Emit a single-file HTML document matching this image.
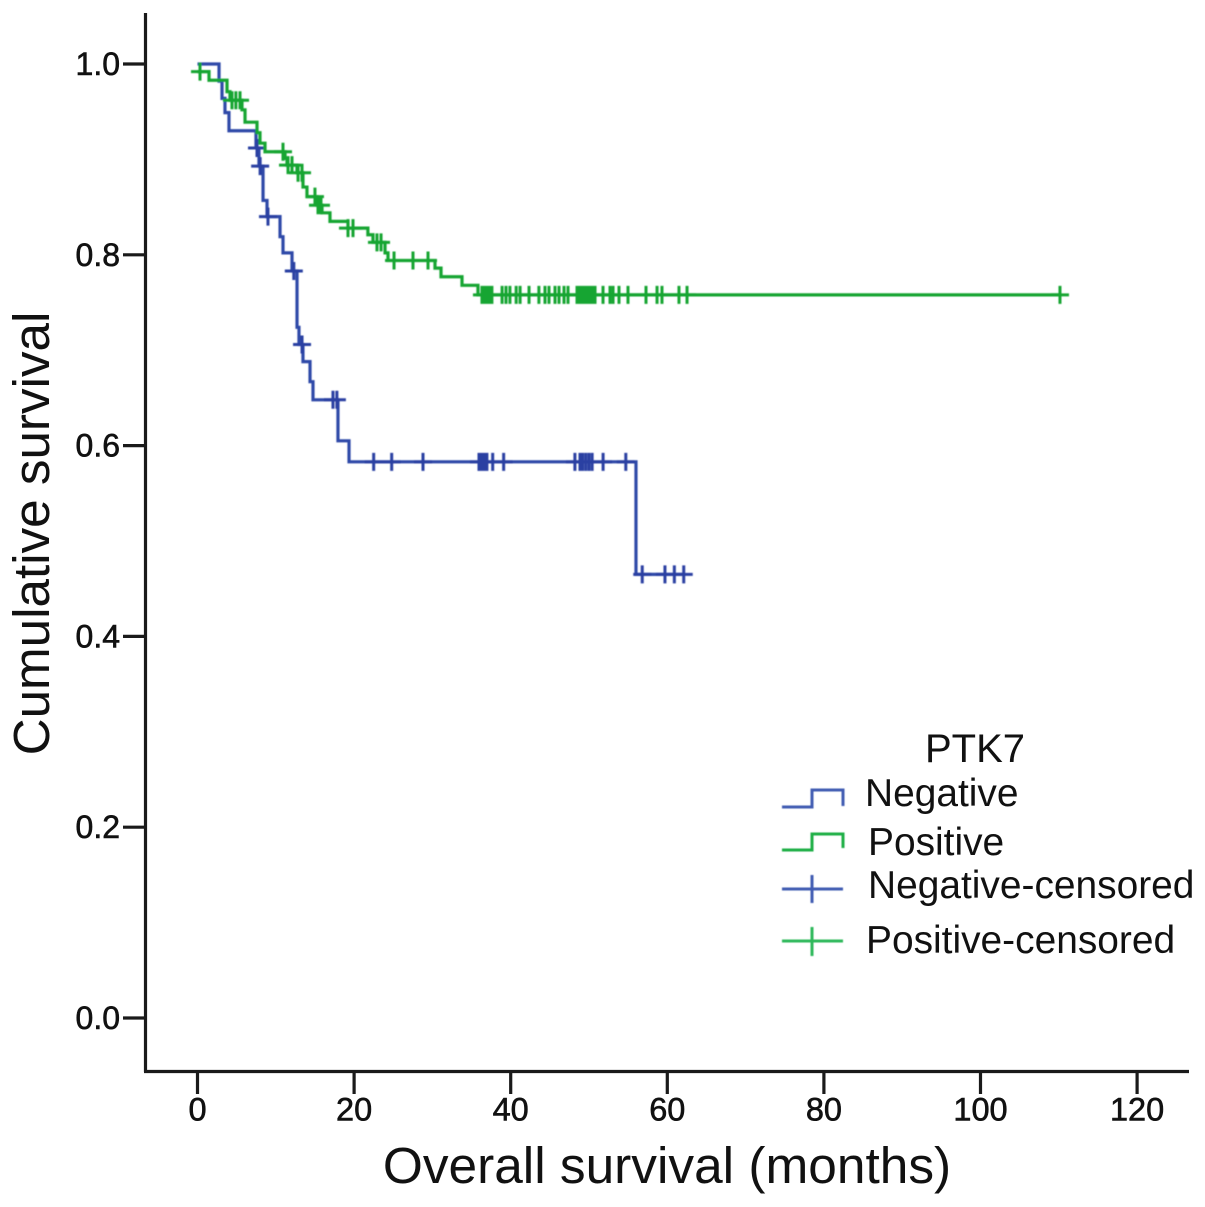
<!DOCTYPE html>
<html>
<head>
<meta charset="utf-8">
<style>
html,body{margin:0;padding:0;background:#fff;}
svg{display:block;}
text{font-family:"Liberation Sans",Arial,sans-serif;fill:#111;}
</style>
</head>
<body>
<svg id="chart" xmlns="http://www.w3.org/2000/svg" width="1205" height="1207" viewBox="0 0 1205 1207">
  <defs>
    <filter id="soft" x="-5%" y="-5%" width="110%" height="110%"><feGaussianBlur stdDeviation="0.6"/></filter>
  </defs>
  <rect width="1205" height="1207" fill="#fff"/>
  <g id="axes"></g>
  <g id="series" filter="url(#soft)"></g>
  <text x="667" y="1183" font-size="51.4" text-anchor="middle">Overall survival (months)</text>
  <text transform="translate(49,533.5) rotate(-90)" font-size="51.2" text-anchor="middle">Cumulative survival</text>
  <g>
    <text x="925" y="762" font-size="40">PTK7</text>
    <g filter="url(#soft)" fill="none" stroke-width="3">
      <path d="M782 807H812V790H843V806" stroke="#3f5cb2"/>
      <path d="M782 850H812V834H843V848" stroke="#1fae45"/>
      <path d="M782 889H843M812 875V903" stroke="#3f5cb2"/>
      <path d="M782 941H843M812 927V956" stroke="#2fb85a"/>
    </g>
    <text x="865" y="806" font-size="38.9">Negative</text>
    <text x="868" y="855" font-size="38.9">Positive</text>
    <text x="868" y="898" font-size="38.9">Negative-censored</text>
    <text x="866" y="953" font-size="38.9">Positive-censored</text>
  </g>
</svg>
<script>
const xTicks = [0, 20, 40, 60, 80, 100, 120];
const yTicks = [0.0, 0.2, 0.4, 0.6, 0.8, 1.0];

const negTimes = [0, 2.75, 3.13, 3.51, 4.02, 7.47, 7.85, 8.37, 8.88, 10.54, 10.92, 12.07, 12.71, 12.96, 13.47, 14.37, 14.75, 17.94, 19.35, 56.0];
const negSurv = [1.0, 0.982, 0.964, 0.949, 0.930, 0.912, 0.893, 0.857, 0.840, 0.819, 0.802, 0.783, 0.724, 0.706, 0.688, 0.667, 0.648, 0.605, 0.583, 0.465];
const negCensored = [7.6, 8.0, 9.0, 12.3, 13.35, 17.3, 17.8, 22.5, 24.8, 28.8, 35.95, 36.2, 36.45, 36.7, 36.96, 37.7, 39.1, 48.2, 48.85, 49.2, 49.6, 50.0, 50.4, 51.8, 54.7, 56.8, 59.7, 60.9, 62.1];

const posTimes = [0, 1.47, 3.77, 4.15, 5.68, 6.07, 7.6, 7.98, 8.62, 11.18, 11.43, 12.71, 13.47, 13.98, 15.26, 15.9, 16.92, 19.22, 21.76, 22.41, 23.95, 24.33, 30.33, 31.1, 33.78, 35.82];
const posSurv = [0.992, 0.983, 0.971, 0.962, 0.952, 0.939, 0.928, 0.917, 0.908, 0.901, 0.894, 0.886, 0.871, 0.861, 0.852, 0.844, 0.835, 0.828, 0.821, 0.813, 0.802, 0.794, 0.786, 0.777, 0.768, 0.758];
const posCensored = [0.32, 4.4, 4.9, 5.43, 10.92, 11.56, 12.07, 12.84, 13.35, 15.0, 15.39, 15.77, 19.22, 19.86, 22.92, 23.44, 25.1, 27.52, 29.44, 36.33, 36.59, 36.84, 37.1, 37.36, 37.6, 38.9, 39.4, 39.9, 40.7, 41.2, 42.34, 43.6, 44.38, 44.89, 45.66, 46.17, 46.81, 47.32, 48.47, 48.72, 48.97, 49.23, 49.49, 49.74, 50.0, 50.26, 50.51, 50.77, 51.79, 52.68, 53.07, 53.83, 54.98, 57.28, 58.69, 59.32, 61.49, 62.52, 110.15];

const NS = 'http://www.w3.org/2000/svg';
const xScale = function (t) { return 197.5 + t * 7.83; };
const yScale = function (s) { return 1018 - s * 954; };

function make(tag, parent, attrs) {
  const el = document.createElementNS(NS, tag);
  for (const k in attrs) el.setAttribute(k, attrs[k]);
  parent.appendChild(el);
  return el;
}

const axes = document.getElementById('axes');
const seriesGroup = document.getElementById('series');
const axisColor = '#1a1a1a';

const yAxisLine = make('line', axes, { x1: 145.5, y1: 13, x2: 145.5, y2: 1072, stroke: axisColor, 'stroke-width': 3.2 });



const xAxisLine = make('line', axes, { x1: 144, y1: 1071.5, x2: 1189, y2: 1071.5, stroke: axisColor, 'stroke-width': 3.2 });



xTicks.forEach(function (v) {
  const x = xScale(v);
  const tick = make('line', axes, { x1: x, y1: 1071, x2: x, y2: 1094, stroke: axisColor, 'stroke-width': 3.2 });
  
  
  const label = make('text', axes, { x: x, y: 1120.5, 'font-size': 32.5, 'text-anchor': 'middle', stroke: '#111', 'stroke-width': 0.6 });
  
  
  label.textContent = String(v);
});

yTicks.forEach(function (v) {
  const y = yScale(v);
  const tick = make('line', axes, { x1: 123, y1: y, x2: 145, y2: y, stroke: axisColor, 'stroke-width': 3.2 });
  
  
  const label = make('text', axes, { x: 120, y: y + 11, 'font-size': 32, 'text-anchor': 'end', stroke: '#111', 'stroke-width': 0.6 });
  
  
  label.textContent = v.toFixed(1);
});

function survivalAt(times, surv, t) {
  let s = surv[0];
  for (let i = 0; i < times.length; i++) {
    if (times[i] <= t) s = surv[i];
  }
  return s;
}

function stepPath(times, surv, endT) {
  let d = 'M' + xScale(times[0]) + ' ' + yScale(surv[0]);
  for (let i = 1; i < times.length; i++) {
    d += 'H' + xScale(times[i]) + 'V' + yScale(surv[i]);
  }
  return d + 'H' + xScale(endT);
}

function censorPath(times, surv, cens) {
  let d = '';
  cens.forEach(function (t) {
    const x = xScale(t);
    const y = yScale(survivalAt(times, surv, t));
    d += 'M' + (x - 9) + ' ' + y + 'H' + (x + 9) + 'M' + x + ' ' + (y - 9) + 'V' + (y + 9);
  });
  return d;
}

const negEnd = negCensored[negCensored.length - 1];
const posEnd = posCensored[posCensored.length - 1];

const negLine = make('path', seriesGroup, { d: stepPath(negTimes, negSurv, negEnd), fill: 'none', stroke: '#2f48a8', 'stroke-width': 3.2 });



const negMarks = make('path', seriesGroup, { d: censorPath(negTimes, negSurv, negCensored), fill: 'none', stroke: '#2a3fa2', 'stroke-width': 3 });



const posLine = make('path', seriesGroup, { d: stepPath(posTimes, posSurv, posEnd), fill: 'none', stroke: '#18a532', 'stroke-width': 3.2 });



const posMarks = make('path', seriesGroup, { d: censorPath(posTimes, posSurv, posCensored), fill: 'none', stroke: '#18a532', 'stroke-width': 3 });


</script>
</body>
</html>
